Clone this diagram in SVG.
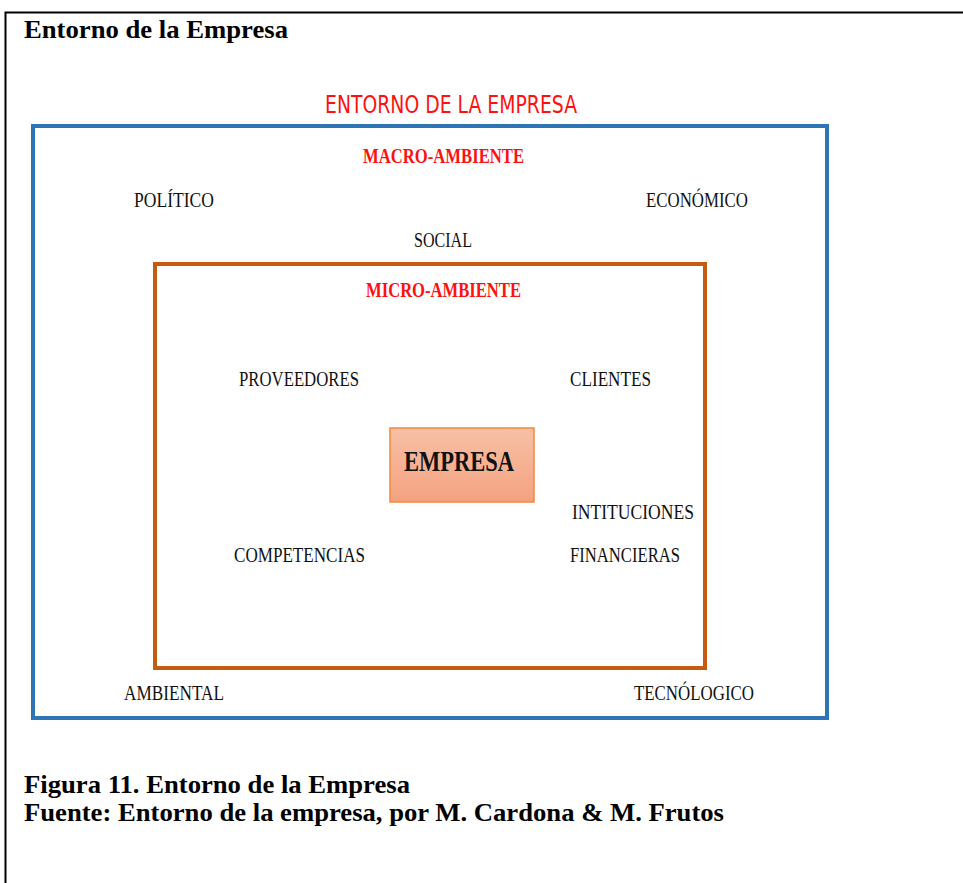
<svg xmlns="http://www.w3.org/2000/svg" width="963" height="883" viewBox="0 0 963 883">
<style>
.hd{font-family:"Liberation Serif",serif;font-weight:bold;fill:#000}
.lb{font-family:"Liberation Serif",serif;font-size:21px;fill:#111}
.rd{font-family:"Liberation Serif",serif;font-weight:bold;font-size:21px;fill:#ff1010}
</style>
<defs>
<linearGradient id="eg" x1="0" y1="0" x2="0" y2="1">
<stop offset="0" stop-color="#f8c0a6"/><stop offset="1" stop-color="#f4a27f"/>
</linearGradient>
</defs>
<rect width="963" height="883" fill="#fff"/>
<path d="M963 12.5H5.5V883" fill="none" stroke="#000" stroke-width="2"/>
<text class="hd" x="24" y="38" font-size="26" textLength="264" lengthAdjust="spacingAndGlyphs">Entorno de la Empresa</text>
<text x="451" y="113" text-anchor="middle" font-family="'DejaVu Sans Condensed','Liberation Sans',sans-serif" font-size="24" fill="#ff1010" textLength="252" lengthAdjust="spacingAndGlyphs">ENTORNO  DE LA EMPRESA</text>
<g id="macro">
<rect x="33" y="126" width="794" height="592" fill="none" stroke="#2e75b6" stroke-width="4"/>
<text class="rd" x="363" y="163" textLength="161" lengthAdjust="spacingAndGlyphs">MACRO-AMBIENTE</text>
<text class="lb" x="134" y="207" textLength="80" lengthAdjust="spacingAndGlyphs">POLÍTICO</text>
<text class="lb" x="646" y="207" textLength="102" lengthAdjust="spacingAndGlyphs">ECONÓMICO</text>
<text class="lb" x="414" y="247" textLength="58" lengthAdjust="spacingAndGlyphs">SOCIAL</text>
<text class="lb" x="124" y="700" textLength="100" lengthAdjust="spacingAndGlyphs">AMBIENTAL</text>
<text class="lb" x="634" y="700" textLength="120" lengthAdjust="spacingAndGlyphs">TECNÓLOGICO</text>
</g>
<g id="micro">
<rect x="155" y="264" width="550" height="404" fill="none" stroke="#c55a11" stroke-width="4"/>
<text class="rd" x="366" y="297" textLength="155" lengthAdjust="spacingAndGlyphs">MICRO-AMBIENTE</text>
<text class="lb" x="239" y="386" textLength="120" lengthAdjust="spacingAndGlyphs">PROVEEDORES</text>
<text class="lb" x="570" y="386" textLength="81" lengthAdjust="spacingAndGlyphs">CLIENTES</text>
<text class="lb" x="572" y="519" textLength="122" lengthAdjust="spacingAndGlyphs">INTITUCIONES</text>
<text class="lb" x="234" y="562" textLength="131" lengthAdjust="spacingAndGlyphs">COMPETENCIAS</text>
<text class="lb" x="570" y="562" textLength="110" lengthAdjust="spacingAndGlyphs">FINANCIERAS</text>
</g>
<g id="empresa">
<rect x="390" y="428" width="144" height="74" fill="url(#eg)" stroke="#f08a40" stroke-width="1.5"/>
<text x="404" y="471" font-family="'Liberation Serif',serif" font-weight="bold" font-size="29" fill="#111" textLength="110" lengthAdjust="spacingAndGlyphs">EMPRESA</text>
</g>
<g id="connectors"/>
<text class="hd" x="24" y="793" font-size="25" textLength="386" lengthAdjust="spacingAndGlyphs">Figura 11. Entorno de la Empresa</text>
<text class="hd" x="24" y="821" font-size="25" textLength="700" lengthAdjust="spacingAndGlyphs">Fuente: Entorno de la empresa, por M. Cardona &amp; M. Frutos</text>
</svg>
